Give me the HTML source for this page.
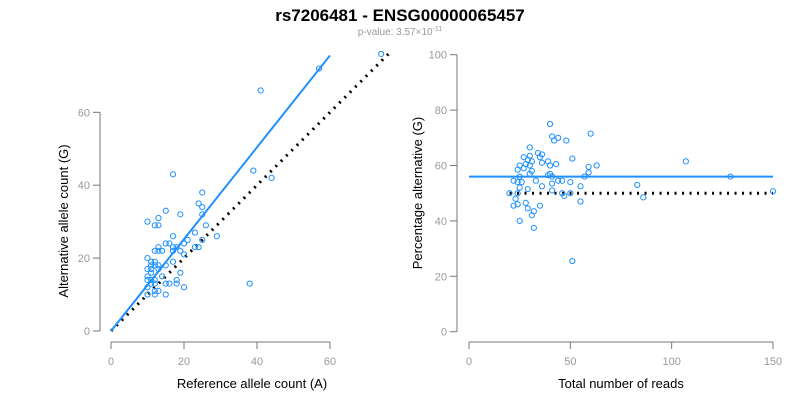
<!DOCTYPE html>
<html><head><meta charset="utf-8"><style>
html,body{margin:0;padding:0;background:#fff;}
svg{display:block;font-family:"Liberation Sans",Arial,sans-serif;}
</style></head><body>
<svg id="chart" width="800" height="400" viewBox="0 0 800 400">
<text x="400" y="21" text-anchor="middle" font-size="17" font-weight="bold" fill="#000">rs7206481 - ENSG00000065457</text>
<text x="400" y="35" text-anchor="middle" font-size="10" fill="#999">p-value: 3.57×10<tspan dy="-4" font-size="7">-11</tspan></text>
<g id="left"></g><g id="right"></g>
</svg>
<script>
// Left panel data
const refCounts = [74,57,41,39,44,17,25,24,25,15,19,25,13,10,12,13,26,17,29,23,21,25,20,15,16,17,13,18,23,24,12,13,14,17,19,20,10,17,11,12,11,13,15,12,10,11,13,11,19,10,14,10,11,12,18,11,12,15,16,18,38,10,20,13,10,12,15,12];
const altCounts = [76,72,66,44,42,43,38,35,34,33,32,32,31,30,29,29,29,26,26,27,25,25,24,24,24,23,23,23,23,23,22,22,22,22,22,21,20,19,19,19,18,18,18,18,17,17,17,16,16,15,15,14,14,14,14,13,13,13,13,13,13,12,12,11,10,10,10,11];
const leftXTicks = [0,20,40,60];
const leftYTicks = [0,20,40,60];
const fitSlope = 1.26;
// Right panel data
const totalReads = [20,22,22,23,24,24,24,24,25,25,25,25,26,27,27,28,28,29,29,29,30,30,30,30,31,31,31,32,32,33,34,35,35,36,36,36,39,39,40,40,40,41,41,41,41,42,43,44,44,46,46,47,48,50,50,51,51,55,55,57,59,59,60,63,83,86,107,129,150];
const pctAlt = [50,54.5,45.5,48,58.5,54,50,46,60,56,52,40,54,63,59,60.5,46.5,62,51.5,44.5,66.5,63.5,60,57,61.5,58,42,43.5,37.5,54.5,64.5,63,45.5,64,61,52.5,61.5,56.5,75,60,57,70.5,56,53.5,51,69,60.5,70,54.5,54.5,50,49,69,54,50,62.5,25.5,52.5,47,56,59.5,57.5,71.5,60,53,48.5,61.5,56,50.7];
const rightXTicks = [0,50,100,150];
const rightYTicks = [0,20,40,60,80,100];
const meanPct = 56;
const nullPct = 50;

const NS="http://www.w3.org/2000/svg";
function mk(parent,tag,attrs){const e=document.createElementNS(NS,tag);for(const k in attrs)e.setAttribute(k,attrs[k]);parent.appendChild(e);return e;}
const BLUE="#1E90FF", AX="#777", TK="#999";

// Left scales
const lx=v=>111+v*(330-111)/60;
const ly=v=>331-v*(331-112.3)/60;
const L=document.getElementById('left');
let e;
e=mk(L,'line',{x1:100,y1:ly(0),x2:100,y2:ly(60),stroke:AX});


leftYTicks.forEach(t=>{
  mk(L,'line',{x1:93,y1:ly(t),x2:100,y2:ly(t),stroke:AX});
  e=mk(L,'text',{x:90,y:ly(t)+4,'text-anchor':'end','font-size':11,fill:TK});e.textContent=t;
  
  
});
e=mk(L,'line',{x1:lx(0),y1:342,x2:lx(60),y2:342,stroke:AX});


leftXTicks.forEach(t=>{
  mk(L,'line',{x1:lx(t),y1:342,x2:lx(t),y2:349,stroke:AX});
  e=mk(L,'text',{x:lx(t),y:365,'text-anchor':'middle','font-size':11,fill:TK});e.textContent=t;
  
  
});
e=mk(L,'text',{x:252,y:388,'text-anchor':'middle','font-size':13,fill:'#000'});e.textContent='Reference allele count (A)';


e=mk(L,'text',{x:0,y:0,'text-anchor':'middle','font-size':13,fill:'#000',transform:'translate(68,221) rotate(-90)'});e.textContent='Alternative allele count (G)';


e=mk(L,'line',{x1:lx(0),y1:ly(0),x2:lx(76),y2:ly(76),stroke:'#000','stroke-width':3,'stroke-dasharray':'2,5.5'});


e=mk(L,'line',{x1:lx(0),y1:ly(0),x2:lx(60),y2:ly(60*fitSlope),stroke:BLUE,'stroke-width':2});


refCounts.forEach((x,i)=>{
  e=mk(L,'circle',{cx:lx(x),cy:ly(altCounts[i]),r:2.6,fill:'none',stroke:BLUE,'stroke-width':1});
  
  
});

// Right scales
const rx=v=>469+v*(773-469)/150;
const ry=v=>331.7-v*(331.7-54.7)/100;
const R=document.getElementById('right');
e=mk(R,'line',{x1:457,y1:ry(0),x2:457,y2:ry(100),stroke:AX});


rightYTicks.forEach(t=>{
  mk(R,'line',{x1:450,y1:ry(t),x2:457,y2:ry(t),stroke:AX});
  e=mk(R,'text',{x:447,y:ry(t)+4,'text-anchor':'end','font-size':11,fill:TK});e.textContent=t;
  
  
});
e=mk(R,'line',{x1:rx(0),y1:342,x2:rx(150),y2:342,stroke:AX});


rightXTicks.forEach(t=>{
  mk(R,'line',{x1:rx(t),y1:342,x2:rx(t),y2:349,stroke:AX});
  e=mk(R,'text',{x:rx(t),y:365,'text-anchor':'middle','font-size':11,fill:TK});e.textContent=t;
  
  
});
e=mk(R,'text',{x:621,y:388,'text-anchor':'middle','font-size':13,fill:'#000'});e.textContent='Total number of reads';


e=mk(R,'text',{x:0,y:0,'text-anchor':'middle','font-size':13,fill:'#000',transform:'translate(422,193) rotate(-90)'});e.textContent='Percentage alternative (G)';


e=mk(R,'line',{x1:rx(20),y1:ry(nullPct),x2:rx(150),y2:ry(nullPct),stroke:'#000','stroke-width':3,'stroke-dasharray':'2,5.5'});


e=mk(R,'line',{x1:rx(0),y1:ry(meanPct),x2:rx(150),y2:ry(meanPct),stroke:BLUE,'stroke-width':2});


totalReads.forEach((x,i)=>{
  e=mk(R,'circle',{cx:rx(x),cy:ry(pctAlt[i]),r:2.6,fill:'none',stroke:BLUE,'stroke-width':1});
  
  
});
</script>
</body></html>
